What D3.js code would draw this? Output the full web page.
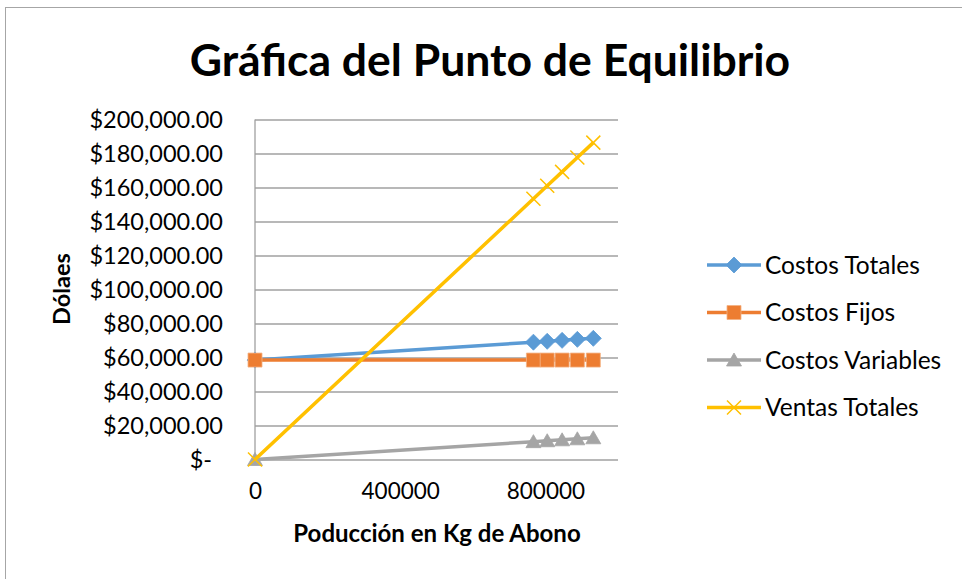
<!DOCTYPE html>
<html>
<head>
<meta charset="utf-8">
<script src="https://cdn.jsdelivr.net/npm/d3@7"></script>
<style>
  body { margin: 0; background: #fff; }
  text { font-family: Lato, "Open Sans", sans-serif; fill: #000; }
</style>
</head>
<body>
<svg id="chart"></svg>
<script>
var width = 962, height = 579;

// data
var produccion = [0, 767000, 805000, 846000, 888000, 932000];
var costosTotales = [58500, 69000, 69530, 70090, 70670, 71270];
var costosFijos = [58500, 58500, 58500, 58500, 58500, 58500];
var costosVariables = [0, 10500, 11030, 11590, 12170, 12770];
var ventasTotales = [0, 153400, 161000, 169200, 177600, 186400];
var seriesNames = ["Costos Totales", "Costos Fijos", "Costos Variables", "Ventas Totales"];
var xTicks = [0, 400000, 800000];
var yTicks = [0, 20000, 40000, 60000, 80000, 100000, 120000, 140000, 160000, 180000, 200000];

var colors = ["#5B9BD5", "#ED7D31", "#A5A5A5", "#FFC000"];
var markers = ["diamond", "square", "triangle", "cross"];

var series = [costosTotales, costosFijos, costosVariables, ventasTotales].map(function(vals, i) {
  return {
    name: seriesNames[i],
    color: colors[i],
    marker: markers[i],
    points: vals.map(function(v, j) { return { x: produccion[j], y: v }; })
  };
});

var plot = { left: 255, right: 618, top: 119.5, bottom: 459.5 };

var svg = d3.select("#chart")
  .attr("width", width)
  .attr("height", height);

// chart frame
svg.append("rect")
  .attr("x", 5.5).attr("y", 7.5)
  .attr("width", 1000).attr("height", 700)
  .attr("fill", "none")
  .attr("stroke", "#a6a6a6");

var x = d3.scaleLinear()
  .domain([0, 1000000])
  .range([plot.left, plot.right]);

var y = d3.scaleLinear()
  .domain([0, 200000])
  .range([plot.bottom, plot.top]);

// gridlines
svg.append("g")
  .attr("class", "grid")
  .attr("transform", "translate(" + plot.left + ",0)")
  .call(d3.axisLeft(y).tickValues(yTicks).tickSize(-(plot.right - plot.left)).tickFormat(""))
  .call(function(g) {
    g.select(".domain").remove();
    g.selectAll("line").attr("stroke", "#a0a0a0").attr("stroke-width", 1.3);
  });

// vertical axis line
svg.append("line")
  .attr("x1", plot.left).attr("x2", plot.left)
  .attr("y1", plot.top).attr("y2", plot.bottom)
  .attr("stroke", "#a0a0a0").attr("stroke-width", 1.3);

var money = d3.format(",.2f");

// y tick labels
svg.append("g")
  .attr("transform", "translate(" + plot.left + ",0)")
  .call(d3.axisLeft(y).tickValues(yTicks).tickSize(0).tickPadding(32)
    .tickFormat(function(d) { return d === 0 ? "$-" : "$" + money(d); }))
  .call(function(g) {
    g.select(".domain").remove();
    g.selectAll("text")
      .style("font-size", "23.5px")
      .attr("dy", "0.35em")
      .attr("dx", function(d) { return d === 0 ? -11 : 0; });
  });

// x tick labels
svg.append("g")
  .attr("transform", "translate(0," + plot.bottom + ")")
  .call(d3.axisBottom(x).tickValues(xTicks).tickSize(0).tickPadding(24)
    .tickFormat(d3.format("d")))
  .call(function(g) {
    g.select(".domain").remove();
    g.selectAll("text").style("font-size", "22.5px");
  });

// lines
var line = d3.line()
  .x(function(d) { return x(d.x); })
  .y(function(d) { return y(d.y); });

// Excel-like marker shapes
var shapes = {
  diamond: "M0,-8L8,0L0,8L-8,0Z",
  square: "M-7,-7H7V7H-7Z",
  triangle: "M0,-7L7.5,6L-7.5,6Z",
  cross: "M-7,-7L7,7M-7,7L7,-7"
};

function drawMarker(sel, s) {
  if (s.marker === "cross") {
    sel.attr("d", shapes.cross)
      .attr("fill", "none")
      .attr("stroke", s.color)
      .attr("stroke-width", 1.5);
  } else {
    sel.attr("d", shapes[s.marker])
      .attr("fill", s.color)
      .attr("stroke", s.marker === "square" ? "#f4b183" : s.color)
      .attr("stroke-width", 0.8);
  }
}

series.forEach(function(s) {
  var g = svg.append("g").attr("class", "series");
  g.append("path")
    .datum(s.points)
    .attr("d", line)
    .attr("fill", "none")
    .attr("stroke", s.color)
    .attr("stroke-width", 3.5)
    .attr("stroke-linejoin", "round");
  g.selectAll("path.marker")
    .data(s.points)
    .enter()
    .append("path")
      .attr("class", "marker")
      .attr("transform", function(d) { return "translate(" + x(d.x) + "," + y(d.y) + ")"; })
      .call(drawMarker, s);
});

// title
svg.append("text")
  .attr("x", 490)
  .attr("y", 76)
  .attr("text-anchor", "middle")
  .style("font-size", "44.5px")
  .style("font-weight", "bold")
  .text("Gráfica del Punto de Equilibrio");

// axis titles
svg.append("text")
  .attr("transform", "translate(70,289) rotate(-90)")
  .attr("text-anchor", "middle")
  .style("font-size", "23.5px")
  .style("font-weight", "bold")
  .text("Dólaes");

svg.append("text")
  .attr("x", 437)
  .attr("y", 542)
  .attr("text-anchor", "middle")
  .style("font-size", "24px")
  .style("font-weight", "bold")
  .text("Poducción en Kg de Abono");

// legend
var legend = svg.append("g")
  .selectAll("g")
  .data(series)
  .enter()
  .append("g")
    .attr("transform", function(d, i) { return "translate(707," + (265 + i * 47.5) + ")"; });

legend.append("line")
  .attr("x1", 0).attr("x2", 54)
  .attr("stroke", function(d) { return d.color; })
  .attr("stroke-width", 3.5);

legend.append("path")
  .attr("transform", "translate(27,0)")
  .each(function(d) { d3.select(this).call(drawMarker, d); });

legend.append("text")
  .attr("x", 58)
  .attr("dy", "0.35em")
  .style("font-size", "24.5px")
  .text(function(d) { return d.name; });
</script>
</body>
</html>
